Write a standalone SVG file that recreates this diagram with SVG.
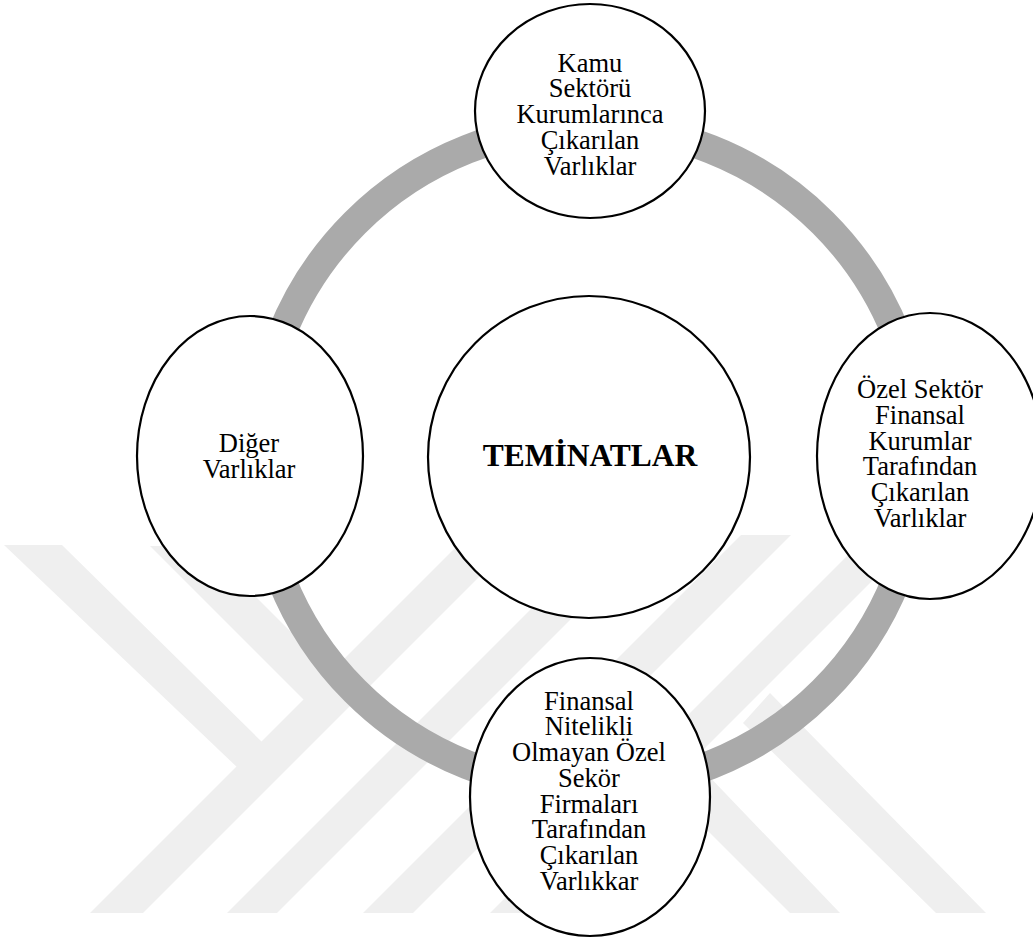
<svg xmlns="http://www.w3.org/2000/svg" width="1033" height="940" viewBox="0 0 1033 940">
<style>
.wm{fill:#efefef}
.node{fill:#ffffff;stroke:#000000;stroke-width:2.2}
.t{font-family:"Liberation Serif","Times New Roman",serif;font-size:26.5px;fill:#000000;text-anchor:middle}
.tb{font-family:"Liberation Serif","Times New Roman",serif;font-size:31.5px;font-weight:bold;fill:#000000;text-anchor:middle}
</style>
<rect width="1033" height="940" fill="#ffffff"/>
<g id="watermark">
<polygon class="wm" points="4,545 62,545 263,743 240,770"/>
<polygon class="wm" points="150,546 205,546 362,703 307,703"/>
<polygon class="wm" points="90,913 143,913 521,535 468,535"/>
<polygon class="wm" points="227,913 277,913 655,535 605,535"/>
<polygon class="wm" points="363,913 413,913 791,535 741,535"/>
<polygon class="wm" points="490,913 540,913 918,535 868,535"/>
<polygon class="wm" points="743,723 770,693 986,913 936,913"/>
<polygon class="wm" points="650,773 680,746 840,913 790,913"/>
</g>
<g id="connectors">
<circle cx="589" cy="457" r="331" fill="none" stroke="#aaaaaa" stroke-width="29"/>
</g>
<g id="node-center">
<circle class="node" cx="589" cy="457" r="161"/>
<text class="tb" x="590" y="466">TEMİNATLAR</text>
</g>
<g id="node-top">
<ellipse class="node" cx="590" cy="111" rx="115" ry="107"/>
<text class="t" x="590" y="71.5">Kamu</text>
<text class="t" x="590" y="97.3">Sektörü</text>
<text class="t" x="590" y="123">Kurumlarınca</text>
<text class="t" x="590" y="148.7">Çıkarılan</text>
<text class="t" x="590" y="174.5">Varlıklar</text>
</g>
<g id="node-right">
<ellipse class="node" cx="930" cy="456" rx="113" ry="143"/>
<text class="t" x="920" y="398.3">Özel Sektör</text>
<text class="t" x="920" y="424">Finansal</text>
<text class="t" x="920" y="449.7">Kurumlar</text>
<text class="t" x="920" y="475.4">Tarafından</text>
<text class="t" x="920" y="501.1">Çıkarılan</text>
<text class="t" x="920" y="526.8">Varlıklar</text>
</g>
<g id="node-bottom">
<ellipse class="node" cx="590" cy="797" rx="120" ry="139"/>
<text class="t" x="589" y="709.5">Finansal</text>
<text class="t" x="589" y="735.2">Nitelikli</text>
<text class="t" x="589" y="761">Olmayan Özel</text>
<text class="t" x="589" y="786.7">Sekör</text>
<text class="t" x="589" y="812.5">Firmaları</text>
<text class="t" x="589" y="838.2">Tarafından</text>
<text class="t" x="589" y="864">Çıkarılan</text>
<text class="t" x="589" y="889.7">Varlıkkar</text>
</g>
<g id="node-left">
<ellipse class="node" cx="250" cy="456" rx="113" ry="140"/>
<text class="t" x="249" y="451.7">Diğer</text>
<text class="t" x="249" y="478.3">Varlıklar</text>
</g>
</svg>
